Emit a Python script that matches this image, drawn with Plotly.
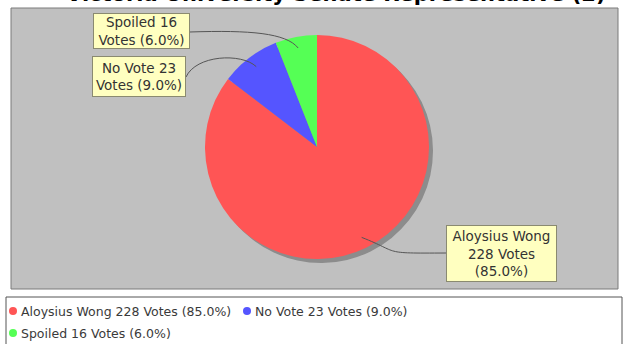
import plotly.graph_objects as go
import math

# ---- data ----
labels = ["Aloysius Wong", "No Vote", "Spoiled"]
votes = [228, 23, 16]
percents = ["85.0%", "9.0%", "6.0%"]
colors = ["#FF5555", "#5555FF", "#55FF55"]
title_text = "Victoria University Senate Representative (2)"

W, H = 624, 344
def px(x):
    return x / W
def py(y):
    return 1 - y / H

# pie geometry (pixels)
CX, CY, R = 317, 147, 112
SH = 4  # shadow offset

fig = go.Figure()

# shadow
fig.add_trace(go.Pie(
    labels=labels, values=votes, sort=False, direction="clockwise", rotation=0,
    marker=dict(colors=["#8C8C8C"] * len(votes), line=dict(width=0)),
    textinfo="none", hoverinfo="skip", showlegend=False,
    domain=dict(x=[px(CX - R + SH), px(CX + R + SH)], y=[py(CY + R + SH), py(CY - R + SH)]),
))
fig.add_trace(go.Pie(
    labels=labels, values=votes, sort=False, direction="clockwise", rotation=0,
    marker=dict(colors=colors, line=dict(width=0)),
    textinfo="none", showlegend=False,
    domain=dict(x=[px(CX - R), px(CX + R)], y=[py(CY + R), py(CY - R)]),
))

shapes = []
annotations = []

# plot area background
shapes.append(dict(type="rect", xref="paper", yref="paper", layer="below",
                   x0=px(11), x1=px(618), y0=py(289), y1=py(8),
                   fillcolor="#C0C0C0", line=dict(color="#7A7A7A", width=1)))

# label anchors on slices (computed from data)
total = sum(votes)
cum = 0
anchors = []
for v in votes:
    mid = (cum + v / 2) / total
    ang = 2 * math.pi * mid  # clockwise from top
    ax = CX + 0.9 * R * math.sin(ang)
    ay = CY - 0.9 * R * math.cos(ang)
    anchors.append((ax, ay))
    cum += v

# label boxes (pixel layout): left, top, width, height, link-start point, texts
boxes = [
    dict(l=446, t=225, w=111, h=57, link=(446, 253),
         text=f"{labels[0]}<br>{votes[0]} Votes<br>({percents[0]})"),
    dict(l=92, t=56, w=94, h=41, link=(186, 77),
         text=f"{labels[1]} {votes[1]}<br>Votes ({percents[1]})"),
    dict(l=93, t=13, w=97, h=36, link=(190, 32),
         text=f"{labels[2]} {votes[2]}<br>Votes ({percents[2]})"),
]

def pp(x, y):
    return f"{px(x):.5f},{py(y):.5f}"

for (ax, ay), b in zip(anchors, boxes):
    sx, sy = b["link"]
    if sx > ax:
        c1 = (ax + 18, ay + 16)
        c2 = (ax + 40, sy)
    else:
        c1 = (sx + 10, sy - 22) if sy > ay else (sx + 60, sy - 2)
        c2 = (ax - 15, ay - 14) if sy > ay else (ax - 12, ay - 15)
    path = f"M{pp(sx, sy)} C{pp(*c1)} {pp(*c2)} {pp(ax, ay)}"
    shapes.append(dict(type="path", xref="paper", yref="paper", path=path,
                       line=dict(color="#555555", width=1)))
    annotations.append(dict(
        xref="paper", yref="paper", x=px(b["l"]), y=py(b["t"]),
        xanchor="left", yanchor="top", showarrow=False, align="center",
        text=b["text"], width=b["w"] - 4, height=b["h"] - 4,
        bgcolor="#FFFFC0", bordercolor="#8A8A70", borderwidth=1, borderpad=1,
        font=dict(family="DejaVu Sans", size=13.5, color="#333333"),
    ))

# title (partly cut off at the top, as in the reference)
annotations.append(dict(
    xref="paper", yref="paper", x=px(336), y=py(-6), xanchor="center", yanchor="middle",
    showarrow=False, text=f"<b>{title_text}</b>",
    font=dict(family="DejaVu Sans", size=21, color="#000000"),
))

# legend (manual, circle markers)
shapes.append(dict(type="rect", xref="paper", yref="paper",
                   x0=px(6), x1=px(622), y0=py(350), y1=py(297),
                   fillcolor="rgba(0,0,0,0)", line=dict(color="#555555", width=1)))
leg_pos = [(13, 311), (247, 311), (13, 333)]
for i, (lx, ly) in enumerate(leg_pos):
    shapes.append(dict(type="circle", xref="paper", yref="paper",
                       x0=px(lx - 4), x1=px(lx + 4), y0=py(ly + 4), y1=py(ly - 4),
                       fillcolor=colors[i], line=dict(width=0)))
    annotations.append(dict(
        xref="paper", yref="paper", x=px(lx + 6), y=py(ly), xanchor="left", yanchor="middle",
        showarrow=False, text=f"{labels[i]} {votes[i]} Votes ({percents[i]})",
        font=dict(family="DejaVu Sans", size=12.5, color="#3A3A3A"),
    ))

fig.update_layout(
    width=W, height=H, margin=dict(l=0, r=0, t=0, b=0),
    paper_bgcolor="white", plot_bgcolor="white",
    shapes=shapes, annotations=annotations, showlegend=False,
)

fig.write_html("out.html", config={"displayModeBar": False},
               post_script="document.body.style.margin='0';document.body.style.overflow='hidden';")
